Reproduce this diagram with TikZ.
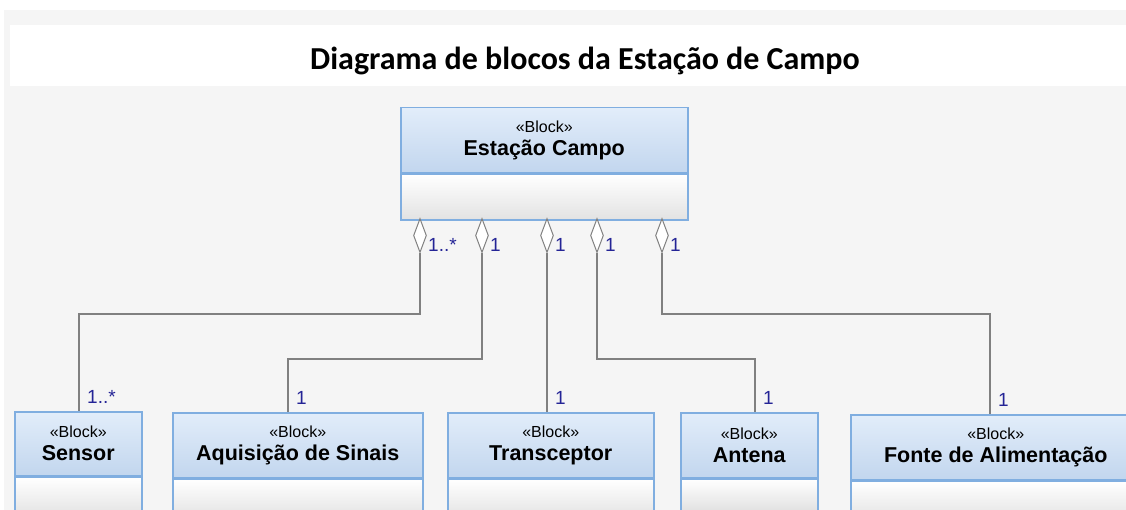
\documentclass[tikz,border=0pt]{standalone}
\usepackage{fontspec}
\setmainfont{Liberation Sans}
\newfontfamily\titlefont{Carlito}
\usetikzlibrary{shapes.geometric, positioning}
\definecolor{baseblue}{RGB}{128,174,224}
\definecolor{headtop}{RGB}{226,237,250}
\definecolor{headbottom}{RGB}{194,214,238}
\definecolor{bodygrey}{RGB}{226,226,226}
\definecolor{panelgrey}{RGB}{245,245,245}
\definecolor{linegrey}{RGB}{128,128,128}
\definecolor{multblue}{RGB}{36,36,150}
\newcommand{\stereo}{{\fontsize{16}{18}\selectfont «Block»}}
\newcommand{\blockname}[1]{{\bfseries\fontsize{21.5}{24}\selectfont #1}}

\begin{document}
\begin{tikzpicture}[x=1pt, y=-1pt, font=\fontsize{17}{23}\selectfont]
  \tikzset{
    block_head/.style={draw=baseblue, line width=1.5pt, top color=headtop, bottom color=headbottom,
      anchor=north west, inner sep=0pt, align=center},
    block_body/.style={draw=baseblue, line width=1.5pt, top color=white, bottom color=bodygrey,
      anchor=north, inner sep=0pt},
    agg_diamond/.style={diamond, draw=linegrey, fill=white, line width=1pt,
      minimum width=13pt, minimum height=34pt, inner sep=0pt, anchor=north},
    part_line/.style={draw=linegrey, line width=1.5pt},
    mult_label/.style={text=multblue, font=\fontsize{19}{22}\selectfont, inner sep=1pt, anchor=south west}
  }

  % Draw the grey panel and the white title band
  \useasboundingbox (0,0) rectangle (1126,510);
  \fill[panelgrey] (4,10) rectangle (1126,510);
  \fill[white] (10,25) rectangle (1126,86);
  \node[font=\titlefont\bfseries\fontsize{32}{36}\selectfont] (title) at (585,61)
    {Diagrama de blocos da Estação de Campo};

  % Draw the field station block at the top
  \node[block_head, minimum width=287pt, minimum height=65pt] (campo) at (400,107)
    {\stereo\\\blockname{Estação Campo}};
  \node[block_body, minimum width=287pt, minimum height=46pt] (body-campo) at (campo.south) {};

  % Draw each part block, its diamond and the connector with both multiplicities
  \foreach \name/\l/\r/\t/\hd/\hb/\xl/\xd/\drop/\mult/\label in {
      sensor/14/141/411/64/40/79/420/61/{1..*}/Sensor,
      aquis/172/422/412/65/40/288/482/106/1/{Aquisição de Sinais},
      trans/447/653/412/65/40/547/547/106/1/Transceptor,
      antena/680/817/412/65/31/755/597/106/1/Antena,
      fonte/850/1140/414/65/40/990/662/61/1/{Fonte de Alimentação}} {
    \pgfmathsetmacro{\w}{\r-\l}
    \node[block_head, minimum width=\w pt, minimum height=\hd pt] (\name) at (\l,\t)
      {\stereo\\\blockname{\label}};
    \node[block_body, minimum width=\w pt, minimum height=\hb pt] (body-\name) at (\name.south) {};
    \coordinate (top-\name) at (\xl,\t);
    \node[agg_diamond] (dia-\name) at (\xd,218) {};
    \draw[part_line] (dia-\name.south) -- ++(0,\drop) -| (top-\name);
    \node[mult_label, xshift=7pt] at (dia-\name.south) {\mult};
    \node[mult_label, xshift=7pt, yshift=6pt] at (top-\name) {\mult};
  }

\end{tikzpicture}
\end{document}
